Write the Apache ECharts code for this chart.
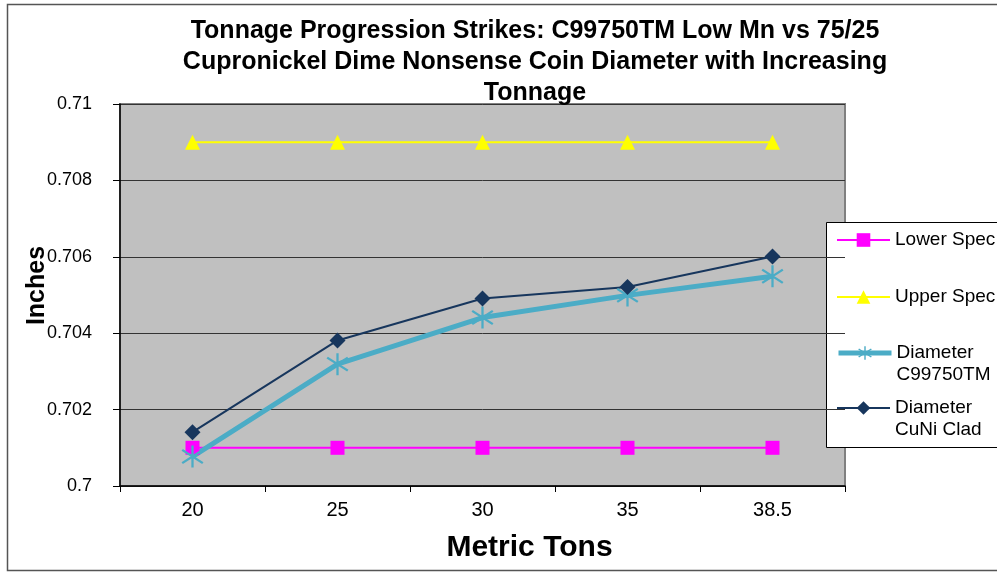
<!DOCTYPE html>
<html>
<head>
<meta charset="utf-8">
<script src="https://cdn.jsdelivr.net/npm/echarts@6/dist/echarts.min.js"></script>
<style>html,body{margin:0;padding:0;background:#fff}#c{width:997px;height:573px}</style>
</head>
<body>
<div id="c"></div>
<script>
var categories = ['20', '25', '30', '35', '38.5'];
var lowerSpec = [0.701, 0.701, 0.701, 0.701, 0.701];
var upperSpec = [0.709, 0.709, 0.709, 0.709, 0.709];
var diamC99750 = [0.70077, 0.70319, 0.70441, 0.70499, 0.70549];
var diamCuNi = [0.70141, 0.70381, 0.70491, 0.70521, 0.70601];
var yTicks = { min: 0.7, max: 0.71, interval: 0.002 };

var FONT = '"Liberation Sans", Arial, sans-serif';
var asterisk = 'path://M9,0L11,0L11,20L9,20Z M0.4,4.8L1.6,3.2L19.6,15.2L18.4,16.8Z M18.4,3.2L19.6,4.8L1.6,16.8L0.4,15.2Z';

function legendFor(name, top, lw) {
  var multi = name.indexOf('\n') >= 0;
  return {
    data: [name], orient: 'vertical', left: 836, top: top,
    itemWidth: 53, itemHeight: 17, itemGap: 0, padding: 0,
    selectedMode: false,
    lineStyle: { width: lw },
    formatter: function (n) { return multi ? '\n' + n : n; },
    textStyle: { fontFamily: FONT, fontSize: 19, color: '#000', lineHeight: 22 }
  };
}

var chart = echarts.init(document.getElementById('c'), null, { renderer: 'canvas' });
chart.setOption({
  backgroundColor: '#fff',
  animation: false,
  title: {
    text: 'Tonnage Progression Strikes: C99750TM Low Mn vs 75/25\nCupronickel Dime Nonsense Coin Diameter with Increasing\nTonnage',
    left: 530, top: 11, textAlign: 'center',
    textStyle: { fontFamily: FONT, fontSize: 25, fontWeight: 'bold', color: '#000', lineHeight: 31 }
  },
  graphic: [
    { type: 'rect', z: -10, shape: { x: 7.5, y: 4.5, width: 1000, height: 566 },
      style: { fill: 'none', stroke: '#555', lineWidth: 1.5 } },
    { type: 'rect', z: 0, shape: { x: 826.5, y: 222.5, width: 200, height: 225 },
      style: { fill: '#fff', stroke: '#000', lineWidth: 1 } }
  ],
  legend: [
    legendFor('Lower Spec', 229, 2),
    legendFor('Upper Spec', 286, 2),
    legendFor('Diameter\nC99750TM', 320, 5),
    legendFor('Diameter\nCuNi Clad', 375, 2)
  ],
  grid: {
    left: 120, right: 152, top: 104, bottom: 87,
    show: true, backgroundColor: '#C0C0C0', borderColor: '#808080', borderWidth: 2
  },
  xAxis: {
    type: 'category', data: categories, boundaryGap: true,
    name: 'Metric Tons', nameLocation: 'middle', nameGap: 47,
    nameTextStyle: { fontFamily: FONT, fontSize: 30, fontWeight: 'bold', color: '#000', padding: [0, 0, 0, 94] },
    axisLine: { lineStyle: { color: '#000', width: 1.5 } },
    axisTick: { show: true, length: 6, lineStyle: { color: '#000' } },
    axisLabel: { fontFamily: FONT, fontSize: 20, color: '#000', margin: 14 },
    splitLine: { show: false }
  },
  yAxis: {
    type: 'value', min: yTicks.min, max: yTicks.max, interval: yTicks.interval,
    name: 'Inches', nameLocation: 'middle', nameGap: 70, nameMoveOverlap: false,
    nameTextStyle: { fontFamily: FONT, fontSize: 25, fontWeight: 'bold', color: '#000', padding: [0, 0, 0, 19] },
    axisLine: { show: true, lineStyle: { color: '#000', width: 1.5 } },
    axisTick: { show: true, length: 7, lineStyle: { color: '#000' } },
    axisLabel: { fontFamily: FONT, fontSize: 18, color: '#000', margin: 28,
      formatter: function (v) { return String(parseFloat(v.toFixed(3))); } },
    splitLine: { show: true, lineStyle: { color: '#333', width: 1 } }
  },
  series: [
    { name: 'Lower Spec', type: 'line', data: lowerSpec,
      symbol: 'rect', symbolSize: 14,
      lineStyle: { color: '#FF00FF', width: 2 }, itemStyle: { color: '#FF00FF' } },
    { name: 'Upper Spec', type: 'line', data: upperSpec,
      symbol: 'triangle', symbolSize: 15,
      lineStyle: { color: '#FFFF00', width: 2 }, itemStyle: { color: '#FFFF00' } },
    { name: 'Diameter\nC99750TM', type: 'line', data: diamC99750,
      symbol: asterisk, symbolSize: 22,
      lineStyle: { color: '#4BACC6', width: 5 }, itemStyle: { color: '#4BACC6' } },
    { name: 'Diameter\nCuNi Clad', type: 'line', data: diamCuNi,
      symbol: 'diamond', symbolSize: 16,
      lineStyle: { color: '#17365D', width: 2 }, itemStyle: { color: '#17365D' } }
  ]
});
</script>
</body>
</html>
